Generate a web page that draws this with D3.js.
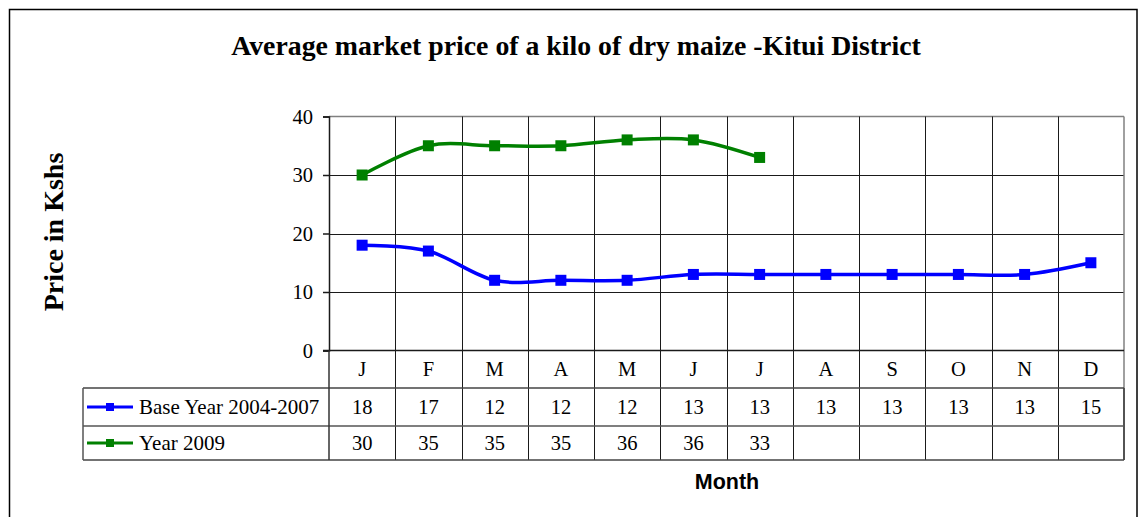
<!DOCTYPE html>
<html><head><meta charset="utf-8">
<script src="https://cdn.jsdelivr.net/npm/d3@7"></script>
<style>
html,body{margin:0;padding:0;background:#fff;}
svg{display:block;}
</style></head>
<body>
<svg id="chart" width="1140" height="517"></svg>
<script>
const months = ["J","F","M","A","M","J","J","A","S","O","N","D"];
const baseValues = [18,17,12,12,12,13,13,13,13,13,13,15];
const y2009Values = [30,35,35,35,36,36,33,null,null,null,null,null];
const yTicks = [0,10,20,30,40];
const seriesNames = ["Base Year 2004-2007","Year 2009"];
const seriesColors = ["#0000FF","#008000"];
const titleText = "Average market price of a kilo of dry maize -Kitui District";
const yLabel = "Price in Kshs";
const xLabel = "Month";

const svg = d3.select("#chart");
const L = 329, R = 1124, T = 116.5, B = 350.5;
const rowBottoms = [388, 426, 460];
const legendLeft = 83;

const x = d3.scaleBand().domain(d3.range(months.length)).range([L, R]);
const y = d3.scaleLinear().domain([0, 40]).range([B, T]);

// outer border
svg.append("rect").attr("x",9.5).attr("y",9.5).attr("width",1127.5).attr("height",530)
  .attr("fill","none").attr("stroke","#000").attr("stroke-width",1.5);

// title
svg.append("text").attr("x",576).attr("y",55).attr("text-anchor","middle")
  .attr("font-family","Liberation Serif, Times New Roman, serif").attr("font-weight","bold")
  .attr("font-size",27.8).text(titleText);

// y label
svg.append("text").attr("transform","translate(63,232) rotate(-90)").attr("text-anchor","middle")
  .attr("font-family","Liberation Serif, Times New Roman, serif").attr("font-weight","bold")
  .attr("font-size",28).text(yLabel);

// horizontal grid
svg.append("g").selectAll("line").data(yTicks.filter(d=>d>0 && d<40)).join("line")
  .attr("x1",L).attr("x2",R).attr("y1",d=>Math.round(y(d))+0.5).attr("y2",d=>Math.round(y(d))+0.5)
  .attr("stroke","#1a1a1a").attr("stroke-width",1);
// top border
svg.append("line").attr("x1",L).attr("x2",R).attr("y1",T).attr("y2",T).attr("stroke","#808080").attr("stroke-width",1.5);
// vertical grid (plot and table)
const vx = d3.range(1, months.length).map(i => x(i));
svg.append("g").selectAll("line").data(vx).join("line")
  .attr("x1",d=>Math.round(d)+0.5).attr("x2",d=>Math.round(d)+0.5).attr("y1",T).attr("y2",rowBottoms[2])
  .attr("stroke","#1a1a1a").attr("stroke-width",1);
// right border
svg.append("line").attr("x1",R).attr("x2",R).attr("y1",T).attr("y2",rowBottoms[0]).attr("stroke","#808080").attr("stroke-width",1.5);
svg.append("line").attr("x1",R).attr("x2",R).attr("y1",rowBottoms[0]).attr("y2",rowBottoms[2]).attr("stroke","#1a1a1a").attr("stroke-width",1.5);

// y axis
const yAxis = svg.append("g").attr("transform",`translate(${L},0)`)
  .call(d3.axisLeft(y).tickValues(yTicks).tickSize(6).tickPadding(10));
yAxis.select(".domain").attr("stroke","#1a1a1a").attr("stroke-width",1.5);
yAxis.selectAll(".tick line").attr("stroke","#1a1a1a").attr("stroke-width",1.5);
yAxis.selectAll(".tick text").attr("font-family","Liberation Serif, Times New Roman, serif")
  .attr("font-size",20.5).attr("fill","#000");

// table
const tb = svg.append("g");
tb.append("line").attr("x1",L-6).attr("x2",R).attr("y1",B).attr("y2",B).attr("stroke","#1a1a1a").attr("stroke-width",1.5);
tb.append("line").attr("x1",legendLeft).attr("x2",R).attr("y1",rowBottoms[0]).attr("y2",rowBottoms[0]).attr("stroke","#444").attr("stroke-width",1.5);
tb.append("line").attr("x1",legendLeft).attr("x2",R).attr("y1",rowBottoms[1]).attr("y2",rowBottoms[1]).attr("stroke","#555").attr("stroke-width",1.5);
tb.append("line").attr("x1",legendLeft).attr("x2",R).attr("y1",rowBottoms[2]).attr("y2",rowBottoms[2]).attr("stroke","#444").attr("stroke-width",1.5);
tb.append("line").attr("x1",legendLeft).attr("x2",legendLeft).attr("y1",rowBottoms[0]).attr("y2",rowBottoms[2]).attr("stroke","#555").attr("stroke-width",1.5);
tb.append("line").attr("x1",L).attr("x2",L).attr("y1",B).attr("y2",rowBottoms[2]).attr("stroke","#333").attr("stroke-width",1.5);

const cellFont = "Liberation Serif, Times New Roman, serif";
tb.append("g").selectAll("text").data(months).join("text")
  .attr("x",(d,i)=>x(i)+x.bandwidth()/2).attr("y",(B+rowBottoms[0])/2)
  .attr("dy","0.35em").attr("text-anchor","middle").attr("font-family",cellFont).attr("font-size",20.5).text(d=>d);
const allSeries = [baseValues, y2009Values];
allSeries.forEach((vals, si) => {
  const top = rowBottoms[si], bot = rowBottoms[si+1];
  tb.append("g").selectAll("text").data(vals).join("text")
    .attr("x",(d,i)=>x(i)+x.bandwidth()/2).attr("y",(top+bot)/2)
    .attr("dy","0.35em").attr("text-anchor","middle").attr("font-family",cellFont).attr("font-size",20.5)
    .text(d=>d==null?"":d);
  const cy = (top+bot)/2;
  tb.append("line").attr("x1",87).attr("x2",133).attr("y1",cy).attr("y2",cy)
    .attr("stroke",seriesColors[si]).attr("stroke-width",3);
  tb.append("rect").attr("x",110-4).attr("y",cy-4).attr("width",8).attr("height",8).attr("fill",seriesColors[si]);
  tb.append("text").attr("x",139).attr("y",cy).attr("dy","0.35em").attr("font-family",cellFont)
    .attr("font-size",21).text(seriesNames[si]);
});

// series lines
const line = d3.line().defined(d=>d!=null)
  .x((d,i)=>x(i)+x.bandwidth()/2).y(d=>y(d)).curve(d3.curveCardinal.tension(0));
allSeries.forEach((vals, si) => {
  svg.append("path").datum(vals).attr("d",line).attr("fill","none")
    .attr("stroke",seriesColors[si]).attr("stroke-width",3.5);
  svg.append("g").selectAll("rect").data(vals.map((v,i)=>({v,i})).filter(d=>d.v!=null)).join("rect")
    .attr("x",d=>x(d.i)+x.bandwidth()/2-5.5).attr("y",d=>y(d.v)-5.5)
    .attr("width",11).attr("height",11).attr("fill",seriesColors[si]);
});

// x label
svg.append("text").attr("x",727).attr("y",489).attr("text-anchor","middle")
  .attr("font-family","Liberation Sans, Arial, sans-serif").attr("font-weight","bold")
  .attr("font-size",21.5).text(xLabel);
</script>
</body></html>
